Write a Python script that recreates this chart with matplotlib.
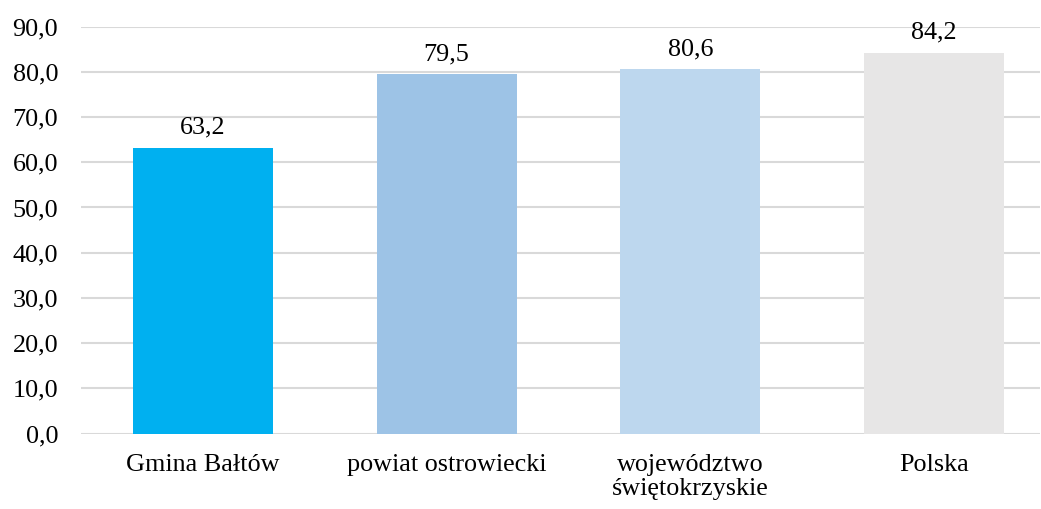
import matplotlib.pyplot as plt
from matplotlib.ticker import FuncFormatter

categories = ['Gmina Bałtów', 'powiat ostrowiecki', 'województwo\nświętokrzyskie', 'Polska']
values = [63.2, 79.5, 80.6, 84.2]
colors = ['#00B0F0', '#9DC3E6', '#BDD7EE', '#E7E6E6']
yticks = [0, 10, 20, 30, 40, 50, 60, 70, 80, 90]

plt.rcParams['font.family'] = ['Liberation Serif', 'DejaVu Serif']
plt.rcParams['font.size'] = 18.8

fig = plt.figure(figsize=(10.41, 5.09), dpi=100)
W, H = 1041, 509
ax = fig.add_axes([81 / W, 1 - 433.5 / H, (1040 - 81) / W, (433.5 - 26.7) / H])

x = range(len(categories))
ax.bar(x, values, width=0.575, color=colors, zorder=2)
for xi, v in zip(x, values):
    ax.text(xi, v + 2.0, f'{v:.1f}'.replace('.', ','), ha='center', va='bottom')

ax.set_ylim(0, 90)
ax.set_xlim(-0.5, 3.5 - 16 / 243.7)
ax.set_yticks(yticks)
ax.yaxis.set_major_formatter(FuncFormatter(lambda v, p: f'{v:.1f}'.replace('.', ',')))
ax.set_xticks(list(x))
ax.set_xticklabels(categories, linespacing=1.1)
ax.grid(axis='y', color='#D9D9D9', linewidth=1.5, zorder=0)
ax.tick_params(axis='y', length=0, pad=16.5)
ax.tick_params(axis='x', length=0, pad=15)
for s in ax.spines.values():
    s.set_visible(False)

fig.savefig('out.png', dpi=100)
